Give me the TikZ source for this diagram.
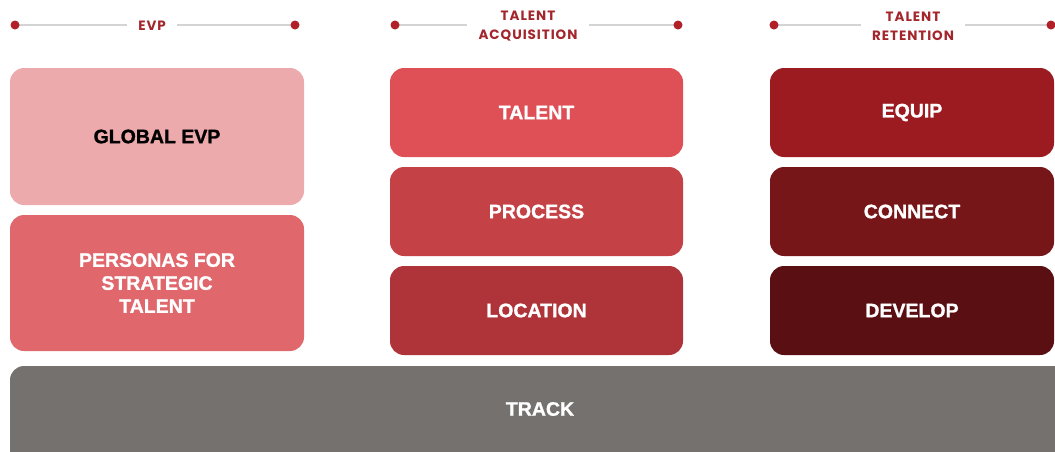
\documentclass[tikz,border=0pt]{standalone}
\usepackage{fontspec}
\setmainfont{Liberation Sans}
\newfontfamily\tilefont[BoldFeatures={FakeBold=1.2}]{Liberation Sans}
\newfontfamily\headfont[LetterSpace=7]{Poppins}
\usetikzlibrary{positioning, backgrounds}

\definecolor{evppink}{HTML}{EDAAAC}
\definecolor{personared}{HTML}{E0686D}
\definecolor{talentred}{HTML}{DE5055}
\definecolor{processred}{HTML}{C44146}
\definecolor{locationred}{HTML}{AE343A}
\definecolor{equipred}{HTML}{9C1B21}
\definecolor{connectred}{HTML}{761618}
\definecolor{developred}{HTML}{5A1013}
\definecolor{trackgray}{HTML}{75716F}
\definecolor{headred}{HTML}{A3262C}
\definecolor{dotred}{HTML}{B11F28}
\definecolor{rulegray}{HTML}{D4D4D4}

\begin{document}
\begin{tikzpicture}[x=1pt, y=-1pt, node distance=10pt,
    tile/.style={rectangle, rounded corners=14pt, inner sep=0pt, outer sep=0pt, text=white, align=center, font=\tilefont\bfseries\fontsize{19.5}{23}\selectfont},
    head/.style={align=center, inner xsep=11pt, inner ysep=0pt, text=headred, font=\headfont\bfseries\fontsize{13.5}{19}\selectfont},
    rule/.style={draw=rulegray, line width=1.5pt}]
    \useasboundingbox (0,0) rectangle (1055,451);

    % column headers
    \coordinate (evpL) at (15,25);
    \coordinate (evpR) at (295,25);
    \coordinate (acqL) at (395,25);
    \coordinate (acqR) at (678,25);
    \coordinate (retL) at (774,25);
    \coordinate (retR) at (1051,25);
    \node[head] (evphead) at (152,26) {EVP};
    \node[head] (acqhead) at (528,26) {TALENT\\ACQUISITION};
    \node[head] (rethead) at (913,26) {TALENT\\RETENTION};
    \draw[rule] (evpL) -- (evphead.west |- evpL);
    \draw[rule] (evphead.east |- evpR) -- (evpR);
    \draw[rule] (acqL) -- (acqhead.west |- acqL);
    \draw[rule] (acqhead.east |- acqR) -- (acqR);
    \draw[rule] (retL) -- (rethead.west |- retL);
    \draw[rule] (rethead.east |- retR) -- (retR);
    \foreach \d in {evpL, evpR, acqL, acqR, retL, retR}
        \fill[dotred] (\d) circle[radius=4.5pt];

    % EVP
    \node[tile, fill=evppink, text=black, anchor=north west, minimum width=294pt, minimum height=137pt] (global) at (10,68) {GLOBAL EVP};
    \node[tile, fill=personared, minimum width=294pt, minimum height=136pt, below=of global] (personas) {PERSONAS FOR\\STRATEGIC\\TALENT};

    % talent acquisition
    \node[tile, fill=talentred, anchor=north west, minimum width=293pt, minimum height=89pt] (talent) at (390,68) {TALENT};
    \node[tile, fill=processred, minimum width=293pt, minimum height=89pt, below=of talent] (process) {PROCESS};
    \node[tile, fill=locationred, minimum width=293pt, minimum height=89pt, below=of process] (location) {LOCATION};

    % talent retention
    \node[tile, fill=equipred, anchor=north west, minimum width=284pt, minimum height=89pt] (equip) at (770,68) {EQUIP};
    \node[tile, fill=connectred, minimum width=284pt, minimum height=89pt, below=of equip] (connect) {CONNECT};
    \node[tile, fill=developred, minimum width=284pt, minimum height=89pt, below=of connect] (develop) {DEVELOP};

    % track
    \node[tile, anchor=north west, minimum width=1060pt, minimum height=86pt] (track) at (10,366) {TRACK};
    \begin{scope}[on background layer]
        \fill[trackgray, rounded corners=14pt] (track.north west) rectangle ([yshift=-30pt]track.south east);
    \end{scope}
\end{tikzpicture}
\end{document}
